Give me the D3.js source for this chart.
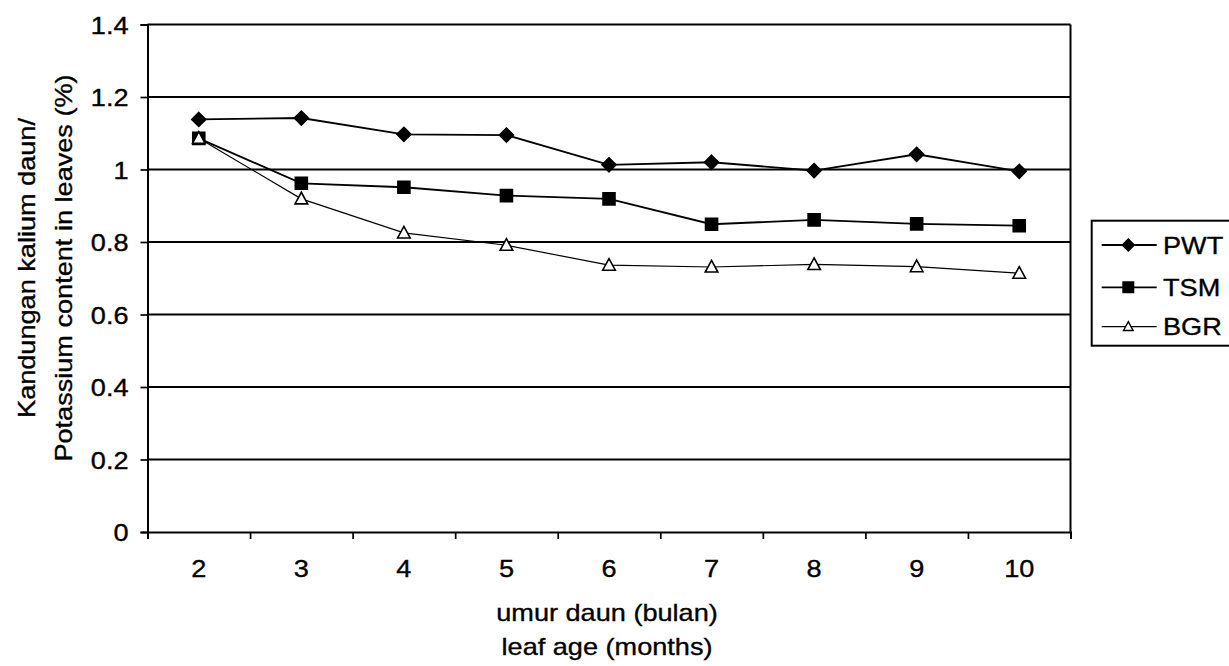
<!DOCTYPE html>
<html>
<head>
<meta charset="utf-8">
<script src="https://cdn.jsdelivr.net/npm/d3@7"></script>
<style>
  html, body { margin: 0; padding: 0; background: #fff; }
  svg { display: block; }
  text { font-family: "Liberation Sans", Arial, sans-serif; fill: #000; stroke: #000; stroke-width: 0.35px; }
</style>
</head>
<body>
<svg id="chart" width="1229" height="666"></svg>
<script>
const categories = ["2", "3", "4", "5", "6", "7", "8", "9", "10"];
const pwt = [1.138, 1.142, 1.097, 1.095, 1.013, 1.020, 0.997, 1.042, 0.995];
const tsm = [1.086, 0.962, 0.951, 0.928, 0.919, 0.849, 0.861, 0.850, 0.845];
const bgr = [1.086, 0.919, 0.825, 0.791, 0.736, 0.731, 0.738, 0.732, 0.714];
const seriesNames = ["PWT", "TSM", "BGR"];
const yTickValues = [0, 0.2, 0.4, 0.6, 0.8, 1.0, 1.2, 1.4];
const yTickLabels = ["0", "0.2", "0.4", "0.6", "0.8", "1", "1.2", "1.4"];
const yTitleLines = ["Kandungan kalium daun/", "Potassium content in leaves (%)"];
const xTitleLines = ["umur daun (bulan)", "leaf age (months)"];

(function () {
const W = 1229, H = 666;
const FS = 24, SX = 1.13;
const pLeft = 147.5, pRight = 1070.5, pTop = 24.5, pBottom = 532;

const svg = d3.select("#chart");
svg.append("rect").attr("width", W).attr("height", H).attr("fill", "#fff");

const x = d3.scaleBand().domain(categories).range([pLeft, pRight]).padding(0);
const xc = c => x(c) + x.bandwidth() / 2;
const xEdge = d3.scaleLinear().domain([0, categories.length]).range([pLeft, pRight]);
const y = d3.scaleLinear().domain([0, 1.4]).range([pBottom, pTop]);

function stretchText(sel, dx, dy) {
  sel.attr("x", null).attr("y", null).attr("dy", null)
     .attr("transform", `translate(${dx},${dy}) scale(${SX},1)`)
     .style("font-size", FS + "px").style("font-family", '"Liberation Sans", Arial, sans-serif')
     .attr("fill", "#000");
}

// gridlines
svg.append("g").selectAll("line").data(yTickValues.filter(v => v > 0)).join("line")
  .attr("x1", pLeft).attr("x2", pRight)
  .attr("y1", d => y(d)).attr("y2", d => y(d))
  .attr("stroke", "#000").attr("stroke-width", 2);

// right border
svg.append("line").attr("x1", pRight).attr("x2", pRight).attr("y1", pTop).attr("y2", pBottom)
  .attr("stroke", "#000").attr("stroke-width", 2);

// y axis
const yAxis = svg.append("g").attr("transform", `translate(${pLeft},0)`)
  .call(d3.axisLeft(y).tickValues(yTickValues).tickSize(7)
    .tickFormat((d, i) => yTickLabels[i]));
yAxis.select(".domain").attr("stroke", "#000").attr("stroke-width", 2);
yAxis.selectAll(".tick line").attr("stroke", "#000").attr("stroke-width", 1.7);
yAxis.selectAll(".tick text").call(stretchText, -19, 8.5).attr("text-anchor", "end");

// x axis tick marks at category boundaries
const xTicks = svg.append("g").attr("transform", `translate(0,${pBottom})`)
  .call(d3.axisBottom(xEdge).tickValues(d3.range(0, categories.length + 1)).tickSize(7).tickFormat(""));
xTicks.select(".domain").attr("stroke", "#000").attr("stroke-width", 2);
xTicks.selectAll(".tick line").attr("stroke", "#000").attr("stroke-width", 1.7);

// x axis labels
const xLabels = svg.append("g").attr("transform", `translate(0,${pBottom})`)
  .call(d3.axisBottom(x).tickSize(0));
xLabels.select(".domain").remove();
xLabels.selectAll(".tick text").call(stretchText, 0, 45).attr("text-anchor", "middle");

// axis titles
function addText(px, py, s, rot) {
  svg.append("text")
    .attr("transform", `translate(${px},${py})${rot ? " rotate(-90)" : ""} scale(${SX},1)`)
    .attr("text-anchor", "middle")
    .style("font-size", FS + "px")
    .text(s);
}
addText(35, 268, yTitleLines[0], true);
addText(72, 268, yTitleLines[1], true);
addText(607, 621, xTitleLines[0], false);
addText(607, 655, xTitleLines[1], false);

// marker shapes
const shapes = {
  diamond: r => `M0,${-r}L${r},0L0,${r}L${-r},0Z`,
  square: r => `M${-r},${-r}H${r}V${r}H${-r}Z`,
  triangle: r => `M0,${-r * 1.05}L${r},${r * 0.8}L${-r},${r * 0.8}Z`
};

const series = [
  { name: seriesNames[0], values: pwt, shape: "diamond", r: 7, lr: 6, fill: "#000", sw: 1.8 },
  { name: seriesNames[1], values: tsm, shape: "square", r: 6, lr: 5.3, fill: "#000", sw: 1.8 },
  { name: seriesNames[2], values: bgr, shape: "triangle", r: 6.3, lr: 4.8, fill: "#fff", sw: 1.2 }
];

const line = d3.line().x((d, i) => xc(categories[i])).y(d => y(d));

series.forEach(s => {
  svg.append("path").datum(s.values).attr("d", line)
    .attr("fill", "none").attr("stroke", "#000").attr("stroke-width", s.sw);
});
series.forEach(s => {
  svg.append("g").selectAll("path").data(s.values).join("path")
    .attr("transform", (d, i) => `translate(${xc(categories[i])},${y(d)})`)
    .attr("d", shapes[s.shape](s.r))
    .attr("fill", s.fill).attr("stroke", "#000").attr("stroke-width", 1.6);
});

// legend
const lg = svg.append("g");
lg.append("rect").attr("x", 1091.7).attr("y", 220.7).attr("width", 160).attr("height", 125)
  .attr("fill", "#fff").attr("stroke", "#000").attr("stroke-width", 2);
const legendY = [245, 287.3, 326.7];
series.forEach((s, i) => {
  const ly = legendY[i];
  lg.append("line").attr("x1", 1101.7).attr("x2", 1156.7).attr("y1", ly).attr("y2", ly)
    .attr("stroke", "#000").attr("stroke-width", s.sw);
  lg.append("path").attr("transform", `translate(1128.3,${ly})`).attr("d", shapes[s.shape](s.lr))
    .attr("fill", s.fill).attr("stroke", "#000").attr("stroke-width", 1.4);
  lg.append("text").attr("transform", `translate(1163,${ly + 8.6}) scale(${SX},1)`)
    .style("font-size", FS + "px").text(s.name);
});
})();
</script>
</body>
</html>
